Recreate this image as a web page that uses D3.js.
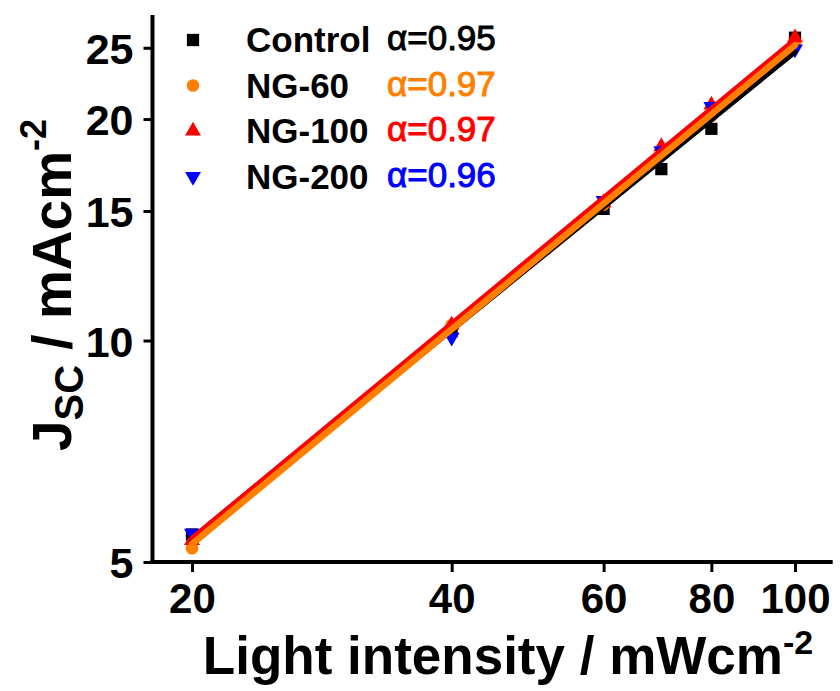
<!DOCTYPE html>
<html>
<head>
<meta charset="utf-8">
<script src="https://cdn.jsdelivr.net/npm/d3@7"></script>
<style>
  html, body { margin: 0; padding: 0; background: #fff; }
  svg { display: block; }
  text { font-family: "Liberation Sans", Arial, sans-serif; }
</style>
</head>
<body>
<svg id="chart" width="840" height="691"></svg>
<script>
// Light intensity (mW cm^-2) at which each Jsc was measured
const intensity = [20, 40, 60, 70, 80, 100];

// Short-circuit current density (mA cm^-2) per device
const controlJsc = [5.45, 10.3, 15.1, 17.1, 19.4, 25.8];
const ng60Jsc    = [5.22, 10.5, 15.3, 17.9, 20.2, 25.3];
const ng100Jsc   = [5.35, 10.5, 15.4, 18.35, 20.9, 25.8];
const ng200Jsc   = [5.47, 10.1, 15.5, 18.1, 20.8, 24.9];

// Fitted power-law exponents (Jsc ∝ P^α)
const alphas = [0.95, 0.97, 0.97, 0.96];

const seriesNames  = ["Control", "NG-60", "NG-100", "NG-200"];
const seriesColors = ["#000000", "#FF8000", "#FF0000", "#0000FF"];
const seriesShapes = ["square", "circle", "up", "down"];

// Axis ticks
const xTicks = [20, 40, 60, 80, 100];
const yTicks = [5, 10, 15, 20, 25];

const series = seriesNames.map((name, i) => ({
  name,
  color: seriesColors[i],
  shape: seriesShapes[i],
  alpha: alphas[i],
  values: [controlJsc, ng60Jsc, ng100Jsc, ng200Jsc][i]
}));

const svg = d3.select("#chart");

const x = d3.scaleLog().domain([18, 110]).range([152.5, 830.7]);
const y = d3.scaleLog().domain([5, 27.7]).range([562, 15]);

const font = "'Liberation Sans', Arial, sans-serif";

// ---- axes -------------------------------------------------------------
function minorRange(lo, hi, step, majors) {
  const out = [];
  for (let v = lo; v <= hi + 1e-9; v += step) {
    const r = Math.round(v * 1000) / 1000;
    if (!majors.some(m => Math.abs(m - r) < 1e-6)) out.push(r);
  }
  return out;
}

const xMinor = minorRange(18, 110, 2, xTicks);
const yMinor = minorRange(5, 27.5, 0.5, yTicks);

const axisY0 = y.range()[0];
const axisX0 = x.range()[0];

// X axis
const gx = svg.append("g").attr("transform", `translate(0,${axisY0})`);
gx.call(d3.axisBottom(x).tickValues(xMinor).tickSize(5).tickFormat(""));
gx.call(d3.axisBottom(x).tickValues(xTicks).tickSize(10).tickPadding(11)
  .tickFormat(d3.format("d")));
gx.selectAll(".domain").remove();
gx.selectAll("line").attr("stroke", "#000").attr("stroke-width", 3);
gx.selectAll("text")
  .attr("fill", "#000")
  .attr("font-family", font)
  .attr("font-weight", "bold")
  .attr("font-size", 42)
  .attr("dy", "0.72em");

// Y axis
const gy = svg.append("g").attr("transform", `translate(${axisX0},0)`);
gy.call(d3.axisLeft(y).tickValues(yMinor).tickSize(4).tickFormat(""));
gy.call(d3.axisLeft(y).tickValues(yTicks).tickSize(9).tickPadding(10)
  .tickFormat(d3.format("d")));
gy.selectAll(".domain").remove();
gy.selectAll("line").attr("stroke", "#000").attr("stroke-width", 3);
gy.selectAll("text")
  .attr("fill", "#000")
  .attr("font-family", font)
  .attr("font-weight", "bold")
  .attr("font-size", 43)
  .attr("dy", "0.36em");

// Axis lines
svg.append("line")
  .attr("x1", axisX0 - 2).attr("x2", x.range()[1] + 2)
  .attr("y1", axisY0).attr("y2", axisY0)
  .attr("stroke", "#000").attr("stroke-width", 4);
svg.append("line")
  .attr("x1", axisX0).attr("x2", axisX0)
  .attr("y1", axisY0 + 2).attr("y2", y.range()[1])
  .attr("stroke", "#000").attr("stroke-width", 4);

// ---- data markers --------------------------------------------------------
function symbolPath(shape) {
  if (shape === "square") return d3.symbol(d3.symbolSquare, 150)();
  if (shape === "circle") return d3.symbol(d3.symbolCircle, 125)();
  return d3.symbol(d3.symbolTriangle, 110)();
}
function symbolTransform(shape, px, py) {
  return shape === "down"
    ? `translate(${px},${py}) rotate(180)`
    : `translate(${px},${py})`;
}

series.forEach(s => {
  svg.append("g").selectAll("path")
    .data(s.values.map((v, i) => ({ p: intensity[i], j: v })))
    .join("path")
    .attr("d", symbolPath(s.shape))
    .attr("transform", d => symbolTransform(s.shape, x(d.p), y(d.j)))
    .attr("fill", s.color);
});

// ---- power-law fits: log J = log c + α log P -----------------------------
series.forEach(s => {
  const logC = d3.mean(s.values, (v, i) => Math.log10(v) - s.alpha * Math.log10(intensity[i]));
  s.fit = p => Math.pow(10, logC + s.alpha * Math.log10(p));
});

const lineOrder = [0, 3, 2, 1];
const lineWidths = { "Control": 5, "NG-60": 6.5, "NG-100": 5, "NG-200": 5 };
const xFit = [intensity[0], intensity[intensity.length - 1]];
lineOrder.forEach(k => {
  const s = series[k];
  svg.append("path")
    .datum(xFit)
    .attr("d", d3.line().x(p => x(p)).y(p => y(s.fit(p))))
    .attr("fill", "none")
    .attr("stroke", s.color)
    .attr("stroke-width", lineWidths[s.name])
    .attr("stroke-linecap", "round");
});

// ---- legend -------------------------------------------------------------
const legend = svg.append("g");
series.forEach((s, i) => {
  const cy = 40 + i * 45.5;
  legend.append("path")
    .attr("d", symbolPath(s.shape))
    .attr("transform", symbolTransform(s.shape, 193, cy))
    .attr("fill", s.color);
  legend.append("text")
    .attr("x", 246).attr("y", cy + 12)
    .attr("font-family", font).attr("font-weight", "bold")
    .attr("font-size", 35).attr("fill", "#000")
    .text(s.name);
  legend.append("text")
    .attr("x", 387).attr("y", cy + 10)
    .attr("font-family", font)
    .attr("font-size", 35).attr("fill", s.color)
    .attr("stroke", s.color).attr("stroke-width", 1)
    .text(`α=${s.alpha.toFixed(2)}`);
});

// ---- axis titles ----------------------------------------------------------
const xTitle = svg.append("text")
  .attr("x", 508).attr("y", 674)
  .attr("text-anchor", "middle")
  .attr("font-family", font).attr("font-weight", "bold")
  .attr("font-size", 53).attr("fill", "#000");
xTitle.append("tspan").text("Light intensity / mWcm");
xTitle.append("tspan").attr("font-size", 34).attr("dy", -20).text("-2");

const yTitle = svg.append("text")
  .attr("transform", "translate(71,285) rotate(-90)")
  .attr("text-anchor", "middle")
  .attr("font-family", font).attr("font-weight", "bold")
  .attr("font-size", 55).attr("fill", "#000");
yTitle.append("tspan").text("J");
yTitle.append("tspan").attr("font-size", 40).attr("dy", 12).text("SC");
yTitle.append("tspan").attr("dy", -12).text(" / mAcm");
yTitle.append("tspan").attr("font-size", 36).attr("dy", -25).text("-2");
</script>
</body>
</html>
